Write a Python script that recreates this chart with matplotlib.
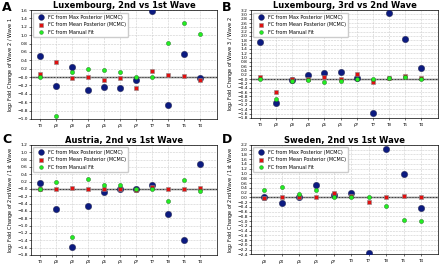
import matplotlib.pyplot as plt
import numpy as np

labels_a = [r'$\tau_3$', r'$\rho_2$', r'$\rho_3$', r'$\rho_4$', r'$\rho_5$', r'$\rho_6$', r'$\rho_7$',
            r'$\tau_7$', r'$\tau_8$', r'$\tau_5$', r'$\tau_4$']
labels_c = [r'$\tau_3$', r'$\rho_3$', r'$\rho_2$', r'$\rho_4$', r'$\rho_5$', r'$\rho_6$', r'$\rho_7$',
            r'$\tau_7$', r'$\tau_8$', r'$\tau_5$', r'$\tau_4$']
labels_d = [r'$\rho_3$', r'$\rho_4$', r'$\rho_5$', r'$\rho_6$', r'$\rho_7$', r'$\tau_3$', r'$\tau_7$',
            r'$\tau_8$', r'$\tau_5$', r'$\tau_4$']

max_a = [0.50, -0.22, 0.25, -0.30, -0.24, -0.27, -0.06, 1.57, -0.67, 0.54, -0.03]
mean_a = [0.08, 0.36, -0.01, 0.00, -0.07, -0.01, -0.27, 0.14, 0.06, 0.03, -0.07]
manual_a = [0.00, -0.94, 0.12, 0.20, 0.17, 0.11, 0.01, 0.00, 0.82, 1.29, 1.03]

max_b = [1.70, -1.10, -0.04, 0.19, 0.28, 0.31, 0.06, -1.59, 3.05, 1.86, 0.53]
mean_b = [0.10, -0.62, 0.00, 0.02, 0.08, 0.00, 0.23, -0.12, 0.05, 0.13, 0.05]
manual_b = [0.00, -0.91, -0.07, -0.03, -0.13, -0.07, 0.00, 0.00, 0.06, 0.08, 0.01]

max_c = [0.17, -0.54, -1.59, -0.47, -0.07, -0.01, 0.00, 0.11, -0.67, -1.40, 0.67]
mean_c = [0.00, 0.00, 0.02, -0.01, 0.00, -0.01, -0.02, 0.05, -0.01, -0.01, 0.02]
manual_c = [0.00, 0.18, -1.32, 0.26, 0.12, 0.10, 0.00, 0.00, -0.33, 0.24, -0.05]

max_d = [0.00, -0.24, 0.03, 0.53, 0.08, 0.19, -2.35, 2.05, 1.00, -0.44]
mean_d = [-0.01, 0.00, 0.03, 0.01, 0.20, 0.05, -0.20, 0.03, 0.05, 0.00]
manual_d = [0.30, 0.43, 0.12, 0.30, 0.00, 0.00, 0.00, -0.38, -0.94, -1.01]

fig = plt.figure(figsize=(4.4, 2.65), dpi=100)


def panel(rect, letter, letter_y, title, ylabel, labels, mx, mn, man, ylim, xlim):
    ax = fig.add_axes(rect)
    x = np.arange(len(labels))
    ax.grid(True, ls='--', lw=0.4, color='#cccccc')
    ax.axhline(0, color='#333333', lw=1.0, zorder=1)
    ax.plot(x, mx, 'o', ms=4.6, color='#0b1a80', mec='#222244', mew=0.3, label='FC from Max Posterior (MCMC)', zorder=3)
    ax.plot(x, mn, 's', ms=3.4, color='#e01010', mec='#888888', mew=0.4, label='FC from Mean Posterior (MCMC)', zorder=4)
    ax.plot(x, man, 'o', ms=3.0, color='#22ee22', mec='#226622', mew=0.3, label='FC from Manual Fit', zorder=5)
    ax.set_xticks(x)
    ax.set_xticklabels(labels, fontsize=3.3)
    ax.set_yticks(np.arange(ylim[0], ylim[1] + 0.01, 0.2))
    ax.tick_params(axis='y', labelsize=3.2, length=1.5, width=0.4, pad=1)
    ax.tick_params(axis='x', length=1.5, width=0.4, pad=0.8)
    ax.yaxis.set_major_formatter(plt.FuncFormatter(lambda v, p: f'{v:.1f}'.replace('-', '\u2212')))
    ax.set_ylim(ylim)
    ax.set_xlim(xlim)
    for s in ax.spines.values():
        s.set_linewidth(0.5)
    ax.set_ylabel(ylabel, fontsize=3.6, labelpad=1.5)
    ax.set_title(title, fontsize=6, fontweight='bold', pad=0.8)
    ax.legend(loc='upper left', fontsize=3.5, markerscale=0.9, handletextpad=0.4,
              borderpad=0.5, labelspacing=0.5, framealpha=1, edgecolor='#cccccc')
    fig.text(rect[0] - 0.066, letter_y, letter, fontsize=9, fontweight='bold', va='top')
    return ax


panel([0.0705, 0.551, 0.4227, 0.411], 'A', 0.998, 'Luxembourg, 2nd vs 1st Wave',
      r'log$_2$ Fold Change of Wave 2 / Wave 1', labels_a, max_a, mean_a, manual_a, (-1.0, 1.6), (-0.56, 11.05))
panel([0.5705, 0.555, 0.425, 0.407], 'B', 0.998, 'Luxembourg, 3rd vs 2nd Wave',
      r'log$_2$ Fold Change of Wave 3 / Wave 2', labels_a, max_b, mean_b, manual_b, (-1.8, 3.2), (-0.56, 11.05))
panel([0.0705, 0.038, 0.4227, 0.415], 'C', 0.498, 'Austria, 2nd vs 1st Wave',
      r'log$_2$ Fold Change of 2nd Wave / 1st Wave', labels_c, max_c, mean_c, manual_c, (-1.8, 1.2), (-0.56, 11.05))
panel([0.5705, 0.040, 0.425, 0.413], 'D', 0.498, 'Sweden, 2nd vs 1st Wave',
      r'log$_2$ Fold Change of 2nd Wave / 1st Wave', labels_d, max_d, mean_d, manual_d, (-2.4, 2.2), (-0.75, 9.98))

fig.savefig('out.png', dpi=100)
